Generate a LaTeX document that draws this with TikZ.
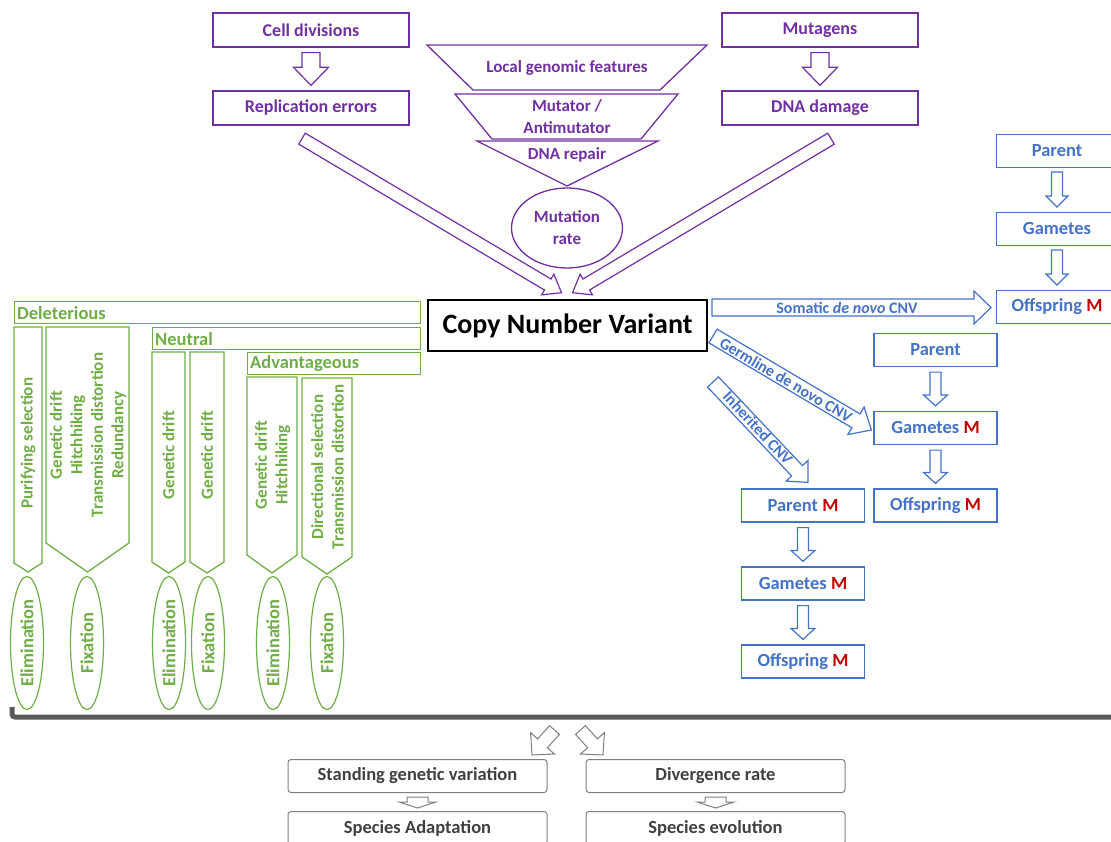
\documentclass[tikz,border=0pt]{standalone}
\usepackage{fontspec}
\setmainfont{Carlito}
\usetikzlibrary{calc,shapes.geometric}
\definecolor{pur}{HTML}{7030A0}
\definecolor{grn}{HTML}{70AD47}
\definecolor{blu}{HTML}{4472C4}
\definecolor{mred}{HTML}{C00000}
\definecolor{dgray}{HTML}{595959}
\definecolor{tgray}{HTML}{404040}
\definecolor{bgray}{HTML}{7F7F7F}
\newcommand{\blkarrow}[6]{%
  \coordinate (bah) at ($(#3)!#6!(#2)$);
  \draw[#1] ($(#2)!#4!90:(#3)$) -- ($(bah)!#4!90:(#3)$) -- ($(bah)!#5!90:(#3)$) -- (#3) -- ($(bah)!#5!-90:(#3)$) -- ($(bah)!#4!-90:(#3)$) -- ($(#2)!#4!-90:(#3)$) -- cycle;}
\newcommand{\downarr}[6]{%
  \coordinate (das) at ($(#2.south)+(0,5)$);
  \coordinate (dae) at ($(#3.north)+(0,-5)$);
  \blkarrow{#1}{das}{dae}{#4}{#5}{#6}}
\newcommand{\redM}{\textcolor{mred}{M}}
\tikzset{
  pbox/.style={draw=pur, line width=1.3pt, text=pur, font=\fontsize{18}{21}\selectfont\bfseries, inner sep=0pt, minimum width=196pt, minimum height=34pt},
  pshape/.style={draw=pur, line width=1.3pt},
  ptext/.style={text=pur, font=\fontsize{17}{22}\selectfont\bfseries, align=center, inner sep=0pt},
  parr/.style={draw=pur, line width=1.2pt, fill=white},
  cnvbox/.style={draw=black, line width=2.6pt, font=\fontsize{28}{30}\selectfont\bfseries, minimum width=279pt, minimum height=51pt, inner sep=0pt},
  gline/.style={draw=grn, line width=1.3pt},
  gtext/.style={text=grn, font=\fontsize{17}{20.5}\selectfont\bfseries, align=center, inner sep=0pt},
  gbtext/.style={text=grn, font=\fontsize{18.5}{21}\selectfont\bfseries, inner sep=0pt},
  gbar/.style={gline, anchor=north west, minimum height=22pt, inner sep=0pt},
  gell/.style={draw=grn, line width=1.2pt, ellipse, rotate=90, minimum width=133pt, minimum height=33pt, inner sep=0pt, text=grn, font=\fontsize{18.5}{20}\selectfont\bfseries},
  bfont/.style={text=blu, font=\fontsize{18.5}{21}\selectfont\bfseries},
  bbox/.style={draw=blu, line width=1.2pt, bfont, inner sep=0pt, minimum width=123pt, minimum height=33pt},
  barr/.style={draw=blu, line width=1.2pt, fill=white},
  btext/.style={text=blu, font=\fontsize{16}{18}\selectfont\bfseries, inner sep=0pt},
  gybox/.style={draw=bgray, line width=1pt, rounded corners=3pt, text=tgray, font=\fontsize{18.5}{21}\selectfont\bfseries, minimum width=259pt, minimum height=33pt, inner sep=0pt},
  gyarr/.style={draw=bgray, line width=1pt, fill=white}
}
\begin{document}
\begin{tikzpicture}[x=1pt,y=-1pt]
\useasboundingbox (0,0) rectangle (1111,842);
% ---------- purple: mutation sources ----------
\node[pbox] (cell) at (311,30) {Cell divisions};
\node[pbox] (rep) at (311,108) {Replication errors};
\node[pbox] (mutag) at (820,30) {Mutagens};
\node[pbox] (dnad) at (820,108) {DNA damage};
\downarr{parr}{cell}{rep}{9pt}{17.5pt}{18pt}
\downarr{parr}{mutag}{dnad}{9pt}{17.5pt}{18pt}
\draw[pshape] (427,45) -- (707,45) -- (660,90) -- (473,90) -- cycle;
\node[ptext] (lgf) at (567,68) {Local genomic features};
\draw[pshape] (455,94) -- (678,94) -- (641,139) -- (492,139) -- cycle;
\node[ptext] (mut) at (567,116.5) {Mutator /\\Antimutator};
\draw[pshape] (477,141) -- (658,141) -- (567,186) -- cycle;
\node[ptext] (rep2) at (567,155) {DNA repair};
\node[draw=pur, line width=1.3pt, ellipse, minimum width=111pt, minimum height=80pt, inner sep=0pt, ptext] (mrate) at (567,228) {Mutation\\rate};
% ---------- CNV ----------
\node[cnvbox] (cnv) at (567.5,325.5) {Copy Number Variant};
\coordinate (lt) at ($(rep.south)+(-9,13)$);
\coordinate (lh) at ($(cnv.north)+(-6,-6)$);
\coordinate (rt) at ($(dnad.south)+(11,13)$);
\coordinate (rh) at ($(cnv.north)+(5,-6)$);
\blkarrow{parr}{lt}{lh}{6.4pt}{12pt}{16pt}
\blkarrow{parr}{rt}{rh}{6.4pt}{12pt}{16pt}
% ---------- green: fate ----------
\node[gbar, minimum width=406pt] (del) at (14,301) {};
\node[gbtext, anchor=west] (delt) at ($(del.west)+(3,0)$) {Deleterious};
\node[gbar, minimum width=268pt] (neu) at (152,327) {};
\node[gbtext, anchor=west] (neut) at ($(neu.west)+(3,0)$) {Neutral};
\node[gbar, minimum width=173pt] (adv) at (247,352) {};
\node[gbtext, anchor=west] (advt) at ($(adv.west)+(3,0)$) {Advantageous};
\draw[gline] (14,327) -- (42,327) -- (42,563) -- (28,572) -- (14,563) -- cycle;
\node[gtext, rotate=90] (c1) at (28,443) {Purifying selection};
\draw[gline] (46,327) -- (129,327) -- (129,543) -- (87.5,572) -- (46,543) -- cycle;
\node[gtext, rotate=90] (c2) at (88,435) {Genetic drift\\Hitchhiking\\Transmission distortion\\Redundancy};
\draw[gline] (152,352) -- (185,352) -- (185,562) -- (168.5,573) -- (152,562) -- cycle;
\node[gtext, rotate=90] (c3) at (168.5,455) {Genetic drift};
\draw[gline] (190,352) -- (224,352) -- (224,562) -- (207,573) -- (190,562) -- cycle;
\node[gtext, rotate=90] (c4) at (207,455) {Genetic drift};
\draw[gline] (247,377) -- (297,377) -- (297,555) -- (272,573) -- (247,555) -- cycle;
\node[gtext, rotate=90] (c5) at (272.5,465) {Genetic drift\\Hitchhiking};
\draw[gline] (302,378) -- (352,378) -- (352,557) -- (327,574) -- (302,557) -- cycle;
\node[gtext, rotate=90] (c6) at (327.5,467) {Directional selection\\Transmission distortion};
\node[gell] (e1) at (27,643) {Elimination};
\node[gell] (e2) at (87,643) {Fixation};
\node[gell] (e3) at (169,643) {Elimination};
\node[gell] (e4) at (208,643) {Fixation};
\node[gell] (e5) at (273,643) {Elimination};
\node[gell] (e6) at (327,643) {Fixation};
% ---------- blue: transmission ----------
\node[bbox, minimum width=122pt, anchor=west] (bp1) at (996,151) {};
\node[bfont, inner sep=0pt] (bp1t) at (1057,151) {Parent};
\node[bbox, minimum width=122pt, anchor=west] (bg1) at (996,229) {};
\node[bfont, inner sep=0pt] (bg1t) at (1057,229) {Gametes};
\node[bbox, minimum width=122pt, anchor=west] (bo1) at (996,307) {};
\node[bfont, inner sep=0pt] (bo1t) at (1057,307) {Offspring \redM};
\coordinate (t1a) at (1057,172); \coordinate (t1b) at (1057,207);
\coordinate (t2a) at (1057,250); \coordinate (t2b) at (1057,285);
\blkarrow{barr}{t1a}{t1b}{5.5pt}{11pt}{11pt}
\blkarrow{barr}{t2a}{t2b}{5.5pt}{11pt}{11pt}
\node[bbox] (bp2) at (935.5,350) {Parent};
\node[bbox] (bg2) at (935.5,428) {Gametes \redM};
\node[bbox] (bo2) at (935.5,505.5) {Offspring \redM};
\node[bbox] (bpM) at (803,505.5) {Parent \redM};
\node[bbox] (bgM) at (803,583.5) {Gametes \redM};
\node[bbox] (boM) at (803,661.5) {Offspring \redM};
\downarr{barr}{bp2}{bg2}{5.5pt}{12pt}{11pt}
\downarr{barr}{bg2}{bo2}{5.5pt}{12pt}{11pt}
\downarr{barr}{bpM}{bgM}{5.5pt}{12pt}{11pt}
\downarr{barr}{bgM}{boM}{5.5pt}{12pt}{11pt}
\coordinate (sa) at (712,307.5);
\coordinate (sb) at ($(bo1.west)+(-5,0.5)$);
\blkarrow{barr}{sa}{sb}{8.5pt}{16.5pt}{17pt}
\node[btext] (sat) at (847,307.5) {Somatic \textit{de novo} CNV};
\coordinate (ga) at (713,336);
\coordinate (gb) at ($(bg2.west)+(-2,2)$);
\blkarrow{barr}{ga}{gb}{8pt}{16pt}{18pt}
\node[btext, rotate=-30.6] (gat) at (786,380) {Germline de novo CNV};
\coordinate (ia) at (713,382);
\coordinate (ib) at ($(bpM.north)+(5,-6)$);
\blkarrow{barr}{ia}{ib}{7.5pt}{15pt}{16pt}
\node[btext, rotate=-46.8] (iat) at (758,428) {Inherited CNV};
% ---------- gray: outcomes ----------
\draw[dgray, line width=5pt, rounded corners=3pt] (12,707) -- (12,717) -- (1116,717);
\coordinate (da) at (554.5,730);
\coordinate (db) at (532,755);
\coordinate (dc) at (580.5,730);
\coordinate (dd) at (603,755);
\blkarrow{gyarr}{da}{db}{6.6pt}{16pt}{15.7pt}
\blkarrow{gyarr}{dc}{dd}{6.6pt}{16pt}{15.7pt}
\node[gybox] (sgv) at (417.5,776) {Standing genetic variation};
\node[gybox] (div) at (715.5,776) {Divergence rate};
\node[gybox] (sad) at (417.5,828) {Species Adaptation};
\node[gybox] (sev) at (715.5,828) {Species evolution};
\coordinate (s1a) at (417.5,797); \coordinate (s1b) at (417.5,808);
\coordinate (s2a) at (715.5,797); \coordinate (s2b) at (715.5,808);
\blkarrow{gyarr}{s1a}{s1b}{10.5pt}{18.5pt}{6pt}
\blkarrow{gyarr}{s2a}{s2b}{10.5pt}{18.5pt}{6pt}
\end{tikzpicture}
\end{document}
